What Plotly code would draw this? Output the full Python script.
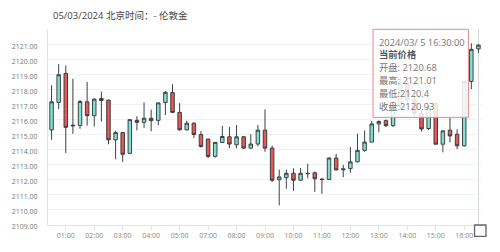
import plotly.graph_objects as go

# ---- data ----
times = (
    ["00:30", "00:45", "01:00", "01:15", "01:30", "01:45", "02:00", "02:15", "02:30", "02:45",
     "03:00", "03:15", "03:30", "03:45", "04:00", "04:15", "04:30", "04:45", "05:00", "05:15",
     "05:30", "05:45",
     "07:00", "07:15", "07:30", "07:45", "08:00", "08:15", "08:30", "08:45", "09:00", "09:15",
     "09:30", "09:45", "10:00", "10:15", "10:30", "10:45", "11:00", "11:15", "11:30", "11:45",
     "12:00", "12:15", "12:30", "12:45", "13:00", "13:15", "13:30", "13:45", "14:00", "14:15",
     "14:30", "14:45", "15:00", "15:15", "15:30", "15:45", "16:00", "16:15", "16:30"]
)
opens = [2115.31, 2117.13, 2119.05, 2115.62, 2115.59, 2117.17, 2116.25, 2117.39, 2117.28, 2114.65,
         2115.13, 2113.75, 2115.94, 2115.81, 2116.08, 2115.94, 2117.12, 2117.78, 2116.47, 2115.31,
         2115.75, 2115.00,
         2114.70, 2113.55, 2114.47, 2114.85, 2114.32, 2114.85, 2114.10, 2114.37, 2115.29, 2114.10,
         2112.00, 2112.14, 2112.43, 2111.97, 2112.40, 2112.46, 2112.04, 2112.02, 2113.44, 2112.66,
         2112.74, 2113.19, 2113.95, 2114.50, 2115.70, 2115.92, 2115.59, 2116.90, 2118.40, 2117.30,
         2116.40, 2115.40, 2117.06, 2114.36, 2115.29, 2115.02, 2114.25, 2118.52, 2120.68]
highs = [2118.27, 2119.67, 2119.58, 2118.70, 2117.30, 2118.49, 2117.40, 2117.85, 2117.32, 2115.26,
         2115.15, 2116.00, 2116.21, 2117.13, 2116.65, 2117.12, 2117.88, 2118.33, 2117.08, 2115.92,
         2115.81, 2115.22,
         2114.72, 2114.50, 2115.57, 2115.50, 2115.63, 2114.90, 2115.02, 2115.63, 2116.67, 2114.26,
         2112.68, 2112.66, 2112.76, 2112.79, 2113.06, 2112.55, 2112.12, 2113.50, 2113.72, 2112.99,
         2114.17, 2115.05, 2115.27, 2115.90, 2115.95, 2116.00, 2117.20, 2118.90, 2118.70, 2117.60,
         2116.60, 2117.00, 2117.10, 2115.30, 2116.12, 2115.35, 2118.55, 2121.05, 2121.01]
lows = [2114.65, 2116.69, 2113.78, 2115.05, 2115.38, 2115.59, 2115.53, 2115.86, 2114.35, 2113.36,
        2113.19, 2113.72, 2115.27, 2115.44, 2115.22, 2115.61, 2116.28, 2116.42, 2115.27, 2115.27,
        2114.78, 2114.13,
        2113.43, 2113.47, 2114.45, 2114.10, 2114.08, 2114.04, 2114.05, 2114.21, 2113.86, 2111.85,
        2110.30, 2111.40, 2111.27, 2111.96, 2112.11, 2111.20, 2111.07, 2111.98, 2112.60, 2112.17,
        2112.46, 2113.15, 2113.85, 2114.48, 2115.14, 2115.50, 2115.50, 2116.70, 2117.00, 2116.20,
        2115.20, 2115.30, 2114.36, 2113.82, 2114.48, 2114.04, 2114.20, 2118.02, 2120.40]
closes = [2117.17, 2118.97, 2115.48, 2115.58, 2117.19, 2116.25, 2117.35, 2117.26, 2114.65, 2115.13,
          2113.69, 2115.99, 2115.81, 2116.08, 2115.92, 2117.10, 2117.80, 2116.47, 2115.31, 2115.75,
          2115.00, 2114.21,
          2113.55, 2114.48, 2114.87, 2114.37, 2114.85, 2114.10, 2114.37, 2115.29, 2114.10, 2111.97,
          2112.19, 2112.43, 2111.97, 2112.43, 2112.42, 2112.07, 2112.02, 2113.44, 2112.66, 2112.72,
          2113.19, 2113.95, 2114.50, 2115.70, 2115.86, 2115.59, 2116.90, 2118.40, 2117.30, 2116.40,
          2115.37, 2116.80, 2114.36, 2115.24, 2114.91, 2114.25, 2118.52, 2120.65, 2120.93]

hour_ticks = ["01:00", "02:00", "03:00", "04:00", "05:00", "07:00", "08:00", "09:00", "10:00",
              "11:00", "12:00", "13:00", "14:00", "15:00", "16:00"]
y_ticks = list(range(2109, 2123))
y_labels = [f"{v:.2f}" if v < 2122 else "" for v in y_ticks]

title_text = "05/03/2024 北京时间：- 伦敦金"
tip_lines = ["2024/03/ 5 16:30:00", "<b>当前价格</b>", "开盘: 2120.68", "最高: 2121.01",
             "最低:2120.4", "收盘:2120.93"]

# ---- layout geometry (pixels) ----
W, H = 500, 252
ML, MR, MT, MB = 45, 18, 29, 25
PW, PH = W - ML - MR, H - MT - MB


def px(x):
    return (x - ML) / PW


def py(y):
    return (H - MB - y) / PH


FONT = "Open Sans, Noto Sans CJK SC, sans-serif"

fig = go.Figure()
fig.add_trace(go.Candlestick(
    x=times, open=opens, high=highs, low=lows, close=closes,
    increasing=dict(fillcolor="#80dfd3", line=dict(color="#3d4444", width=1)),
    decreasing=dict(fillcolor="#e85656", line=dict(color="#3d3d3d", width=1)),
    whiskerwidth=0, showlegend=False, hoverinfo="skip",
))

shapes = []
# axis pointer line at last candle
shapes.append(dict(type="line", xref="x", yref="paper", x0=len(times) - 1, x1=len(times) - 1,
                   y0=0, y1=1, line=dict(color="#cfd3da", width=1), layer="below"))
# tooltip box
shapes.append(dict(type="rect", xref="paper", yref="paper",
                   x0=px(372.3), x1=px(468.3), y0=py(118.3), y1=py(29.3),
                   fillcolor="rgba(255,255,255,0.85)", line=dict(color="#e8878a", width=1),
                   layer="above"))
# datazoom handle
shapes.append(dict(type="rect", xref="paper", yref="paper",
                   x0=px(474.5), x1=px(486), y0=py(238.5), y1=py(227),
                   fillcolor="#ffffff", line=dict(color="#666666", width=1.3), layer="above"))

annotations = [dict(text=title_text, xref="paper", yref="paper", x=px(48), y=py(15.2),
                    xanchor="left", yanchor="middle", showarrow=False,
                    font=dict(family=FONT, size=9.5, color="#444444"))]
line_ys = [42.2, 55.0, 68.0, 81.0, 94.0, 107.0]
for t, yy in zip(tip_lines, line_ys):
    annotations.append(dict(text=t, xref="paper", yref="paper", x=px(376.5), y=py(yy),
                            xanchor="left", yanchor="middle", showarrow=False,
                            font=dict(family=FONT, size=9.3,
                                      color="#555555" if "<b>" in t else "#777777")))

fig.update_layout(
    width=W, height=H,
    margin=dict(l=ML, r=MR, t=MT, b=MB, pad=0),
    paper_bgcolor="white", plot_bgcolor="white",
    shapes=shapes, annotations=annotations,
    xaxis=dict(type="category", range=[-0.5, len(times) - 0.5], rangeslider=dict(visible=False),
               tickmode="array", tickvals=hour_ticks, ticktext=hour_ticks,
               showgrid=False, showline=True, linecolor="#dfe4ec", linewidth=1,
               ticks="outside", ticklen=4, tickcolor="#dfe4ec",
               tickfont=dict(family=FONT, size=7, color="#888888"), fixedrange=True),
    yaxis=dict(range=[2109, 2122], tickmode="array", tickvals=y_ticks, ticktext=y_labels,
               showgrid=True, gridcolor="#eef1f6", gridwidth=1, zeroline=False,
               showline=True, linecolor="#dfe4ec", linewidth=1, ticks="",
               ticklabelstandoff=8, ticklabelshift=2,
               tickfont=dict(family=FONT, size=7, color="#777777"), fixedrange=True),
)

fig.write_html("out.html")
